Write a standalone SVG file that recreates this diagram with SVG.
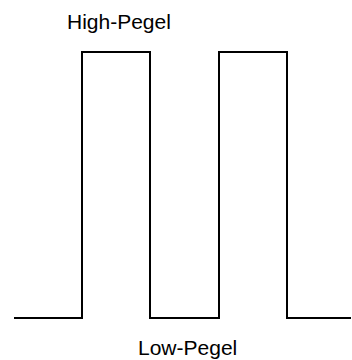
<svg xmlns="http://www.w3.org/2000/svg" width="352" height="360" viewBox="0 0 352 360">
<style>
.lbl{font-family:"Liberation Sans",Arial,sans-serif;font-size:21px;fill:#000}
.sig{fill:none;stroke:#000;stroke-width:2;stroke-linejoin:miter}
</style>
<rect width="352" height="360" fill="#fff"/>
<g id="connectors">
<path class="sig" d="M14 318 H82 V52 H150 V318 H219 V52 H287 V318 H351"/>
</g>
<g id="high-label"><text class="lbl" x="67" y="28.5">High-Pegel</text></g>
<g id="low-label"><text class="lbl" x="138" y="355">Low-Pegel</text></g>
</svg>
